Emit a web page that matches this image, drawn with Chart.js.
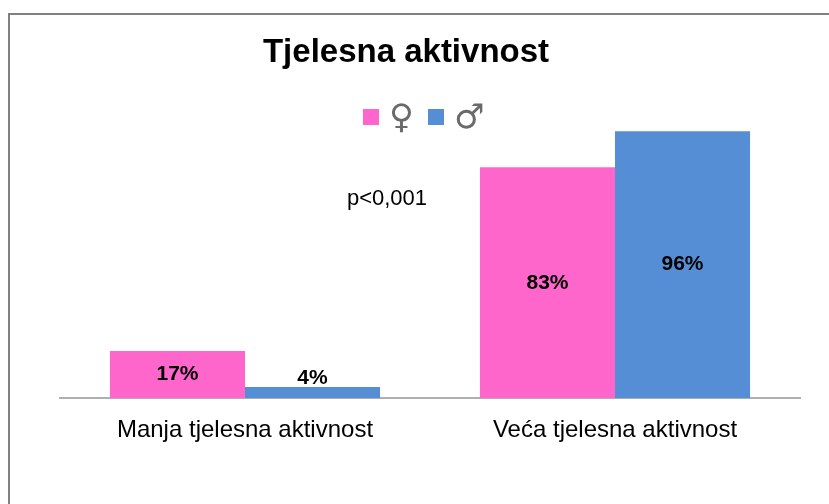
<!DOCTYPE html>
<html>
<head>
<meta charset="utf-8">
<script src="https://cdn.jsdelivr.net/npm/chart.js@4"></script>
<style>
  body { margin: 0; background: #fff; }
  #wrap { position: relative; width: 829px; height: 504px; overflow: hidden; }
  #frame { position: absolute; left: 8px; top: 13px; width: 830px; height: 500px;
           border-left: 2px solid #808080; border-top: 2px solid #808080; }
  canvas { position: absolute; left: 0; top: 0; }
</style>
</head>
<body>
<div id="wrap">
  <div id="frame"></div>
  <canvas id="myChart" width="829" height="504"></canvas>
</div>
<script>
const categories = ['Manja tjelesna aktivnost', 'Veća tjelesna aktivnost']
const female = [17, 83]
const male = [4, 96]
const seriesNames = ['♀', '♂']
const chartTitle = 'Tjelesna aktivnost'
const pNote = 'p<0,001'

const pink = '#FF66CC'
const blue = '#558ED5'

// title, legend, p-value and bar labels
const decor = {
    id: 'decor',
    afterDatasetsDraw(chart) {
        const c = chart.ctx
        c.save()
        c.fillStyle = '#000'
        c.textAlign = 'center'
        c.textBaseline = 'middle'
        c.font = 'bold 33px "Liberation Sans", Arial, sans-serif'
        c.fillText(chartTitle, 406, 53)

        // legend
        let x = 363
        chart.data.datasets.forEach(ds => {
            c.fillStyle = ds.backgroundColor
            c.fillRect(x, 109, 16, 16)
            c.fillStyle = '#6a6a6a'
            c.font = '34px "DejaVu Sans", sans-serif'
            c.textAlign = 'left'
            c.fillText(ds.label, x + 26, 119)
            x += 65
        })

        c.fillStyle = '#000'
        c.textAlign = 'center'
        c.font = '22px "Liberation Sans", Arial, sans-serif'
        c.fillText(pNote, 387, 199)

        // value labels
        c.font = 'bold 21px "Liberation Sans", Arial, sans-serif'
        chart.data.datasets.forEach((ds, i) => {
            chart.getDatasetMeta(i).data.forEach((bar, j) => {
                const h = bar.base - bar.y
                let y = (bar.y + bar.base) / 2
                if (h < 26) y = bar.y - 9
                c.fillText(ds.data[j] + '%', bar.x, y)
            })
        })
        c.restore()
    }
}

new Chart(document.getElementById('myChart'), {
    type: 'bar',
    data: {
        labels: categories,
        datasets: [
            { label: seriesNames[0], data: female, backgroundColor: pink },
            { label: seriesNames[1], data: male, backgroundColor: blue }
        ]
    },
    options: {
        responsive: false,
        animation: false,
        devicePixelRatio: 1,
        layout: { padding: { left: 60, right: 29, top: 120, bottom: 49 } },
        datasets: { bar: { categoryPercentage: 0.73, barPercentage: 1.0 } },
        scales: {
            x: {
                grid: { display: false },
                border: { display: true, color: '#b0b0b0', width: 2 },
                ticks: {
                    color: '#000',
                    padding: 10,
                    font: { family: '"Liberation Sans", Arial, sans-serif', size: 24 }
                }
            },
            y: {
                display: false,
                min: 0,
                max: 100
            }
        },
        plugins: {
            legend: { display: false },
            title: { display: false },
            tooltip: { enabled: false }
        }
    },
    plugins: [decor]
})
</script>
</body>
</html>
